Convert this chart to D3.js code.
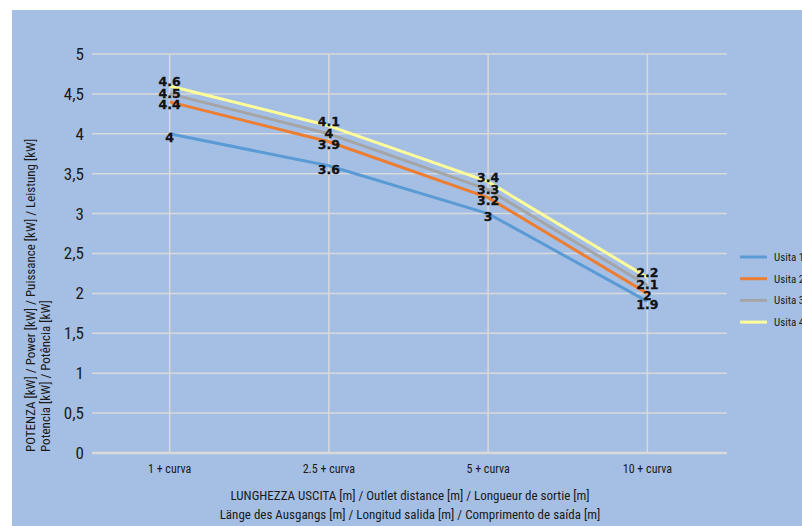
<!DOCTYPE html>
<html>
<head>
<meta charset="utf-8">
<script src="https://cdn.jsdelivr.net/npm/d3@7"></script>
<style>
  body { margin: 0; background: #fff; }
  svg { display: block; }
  .narrow { font-family: "Liberation Sans Narrow", "Roboto Condensed", "Arial Narrow", sans-serif; }
</style>
</head>
<body>
<div id="chart"></div>
<script>
var categories = ["1 + curva", "2.5 + curva", "5 + curva", "10 + curva"];
var seriesNames = ["Usita 1", "Usita 2", "Usita 3", "Usita 4"];
var usita1 = [4, 3.6, 3, 1.9];
var usita2 = [4.4, 3.9, 3.2, 2];
var usita3 = [4.5, 4, 3.3, 2.1];
var usita4 = [4.6, 4.1, 3.4, 2.2];
var yTicks = [0, 0.5, 1, 1.5, 2, 2.5, 3, 3.5, 4, 4.5, 5];

var series = [usita1, usita2, usita3, usita4];
var colors = ["#5b9bd5", "#ed7d31", "#a5a5a5", "#ffff99"];
// nudge the value labels a little so they don't sit on top of each other
var labelShift = [3.5, 2.5, -0.5, -4.5];

var width = 802, height = 526;
var margin = { top: 54, right: 75, bottom: 73, left: 90 };

var svg = d3.select("#chart").append("svg")
    .attr("width", width)
    .attr("height", height);

// blue panel
svg.append("rect")
    .attr("x", 12).attr("y", 10)
    .attr("width", width - 12).attr("height", height - 10)
    .attr("fill", "#a5bfe4");

var x = d3.scalePoint()
    .domain(categories)
    .range([margin.left, width - margin.right])
    .padding(0.5);

var y = d3.scaleLinear()
    .domain([0, 5])
    .range([height - margin.bottom, margin.top]);

var fmt = function(d) { return String(d).replace(".", ","); };

// horizontal grid
svg.append("g").selectAll("line")
    .data(yTicks)
    .enter().append("line")
    .attr("x1", margin.left + 2)
    .attr("x2", width - margin.right)
    .attr("y1", function(d) { return y(d); })
    .attr("y2", function(d) { return y(d); })
    .attr("stroke", "#d9d9d9")
    .attr("stroke-width", function(d) { return d == 0 ? 2.5 : 1.5; });

// vertical grid
svg.append("g").selectAll("line")
    .data(categories)
    .enter().append("line")
    .attr("x1", function(d) { return x(d); })
    .attr("x2", function(d) { return x(d); })
    .attr("y1", y(5))
    .attr("y2", y(0))
    .attr("stroke", "#d9d9d9")
    .attr("stroke-width", 1.5);

// y tick labels
svg.append("g").selectAll("text")
    .data(yTicks)
    .enter().append("text")
    .attr("class", "narrow")
    .attr("x", 84)
    .attr("y", function(d) { return y(d); })
    .attr("dy", "0.35em")
    .attr("text-anchor", "end")
    .style("font-size", "17px")
    .attr("fill", "#1a1a1a")
    .text(fmt);

// x tick labels
svg.append("g").selectAll("text")
    .data(categories)
    .enter().append("text")
    .attr("class", "narrow")
    .attr("x", function(d) { return x(d); })
    .attr("y", 469)
    .attr("dy", "0.35em")
    .attr("text-anchor", "middle")
    .style("font-size", "12px")
    .attr("fill", "#1a1a1a")
    .text(function(d) { return d; });

// axis titles
var xTitle = ["LUNGHEZZA USCITA [m] / Outlet distance [m] / Longueur de sortie [m]",
              "Länge des Ausgangs [m] / Longitud salida [m] / Comprimento de saída [m]"];
svg.append("g").selectAll("text")
    .data(xTitle)
    .enter().append("text")
    .attr("class", "narrow")
    .attr("x", 410)
    .attr("y", function(d, i) { return 495 + i * 19; })
    .attr("dy", "0.35em")
    .attr("text-anchor", "middle")
    .style("font-size", "13px")
    .attr("fill", "#1a1a1a")
    .text(function(d) { return d; });

var yTitle = ["POTENZA [kW] / Power [kW] / Puissance [kW] / Leistung [kW]",
              "Potencia [kW] / Potência [kW]"];
svg.append("g").selectAll("text")
    .data(yTitle)
    .enter().append("text")
    .attr("class", "narrow")
    .attr("transform", function(d, i) { return "translate(" + (30 + i * 15) + ",452) rotate(-90)"; })
    .attr("dy", "0.35em")
    .attr("text-anchor", "start")
    .style("font-size", "13px")
    .attr("fill", "#1a1a1a")
    .text(function(d) { return d; });

// lines
var line = d3.line()
    .x(function(d, i) { return x(categories[i]); })
    .y(function(d) { return y(d); });

svg.append("g").selectAll("path")
    .data(series)
    .enter().append("path")
    .attr("d", line)
    .attr("fill", "none")
    .attr("stroke", function(d, i) { return colors[i]; })
    .attr("stroke-width", 3)
    .attr("stroke-linejoin", "round");

// value labels
series.forEach(function(s, si) {
    svg.append("g").selectAll("text")
        .data(s)
        .enter().append("text")
        .attr("x", function(d, i) { return x(categories[i]); })
        .attr("y", function(d) { return y(d) + labelShift[si]; })
        .attr("dy", "0.35em")
        .attr("text-anchor", "middle")
        .style("font-family", "'DejaVu Sans', sans-serif")
        .style("font-weight", "bold")
        .style("font-size", "12.5px")
        .style("stroke", "#111")
        .style("stroke-width", 0.3)
        .attr("fill", "#111")
        .text(function(d) { return d; });
});

// legend
var legend = svg.append("g").selectAll("g")
    .data(seriesNames)
    .enter().append("g")
    .attr("transform", function(d, i) { return "translate(740," + (257 + i * 21.7) + ")"; });

legend.append("line")
    .attr("x1", 0).attr("x2", 27)
    .attr("stroke", function(d, i) { return colors[i]; })
    .attr("stroke-width", 3);

legend.append("text")
    .attr("class", "narrow")
    .attr("x", 34)
    .attr("dy", "0.35em")
    .style("font-size", "11px")
    .attr("fill", "#1a1a1a")
    .text(function(d) { return d; });
</script>
</body>
</html>
